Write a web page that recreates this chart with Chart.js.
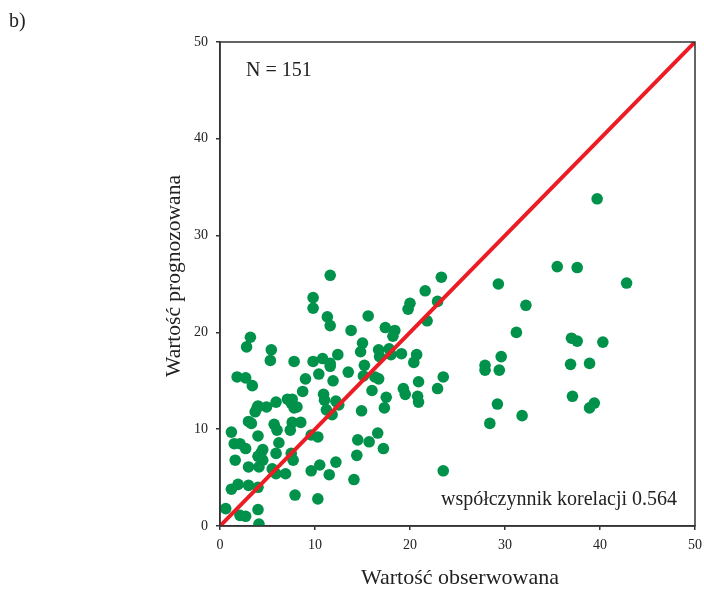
<!DOCTYPE html>
<html lang="pl">
<head>
    <meta charset="UTF-8">
    <title>Wartość obserwowana vs prognozowana</title>
    <script src="https://cdn.jsdelivr.net/npm/chart.js"></script>
    <style>
        body {
            margin: 0;
            padding: 0;
            background: #ffffff;
        }
        #wrap {
            width: 704px;
            height: 589px;
        }
    </style>
</head>
<body>

<div id="wrap">
    <canvas id="myChart" width="704" height="589"></canvas>
</div>

<script>
    // Data
    const obsX = [
        1.2, 4.0, 3.9, 3.7, 4.9, 5.9, 7.1, 7.6, 7.5, 7.8, 8.1, 8.7, 10.9, 11.0, 11.2, 12.2,
        3.0, 3.3, 4.0, 5.7, 6.0, 7.6, 7.4, 8.5, 6.2, 1.5, 2.1, 2.7, 4.5, 4.3, 4.0, 4.5,
        4.1, 5.9, 7.5, 7.7, 1.6, 3.0, 5.5, 5.9, 6.9, 9.6, 10.3, 9.6, 10.5, 11.5, 12.2,
        1.9, 1.2, 3.0, 4.0, 7.9, 10.3, 0.6, 4.0, 2.1, 2.7, 4.1,
        11.6, 9.8, 9.8, 11.3, 11.6, 3.2, 2.8, 5.4, 5.3, 7.8, 9.8, 10.8, 11.6, 11.6, 12.4,
        1.8, 2.7, 3.4, 9.0, 10.4, 11.9,
        23.3, 21.6, 20.0, 19.8, 22.9, 21.8, 15.6, 13.8, 17.4, 18.4, 18.2, 15.0, 14.8,
        16.7, 17.8, 16.8, 18.0, 19.1, 20.7, 20.4, 15.2, 13.5, 15.1, 16.3, 16.7, 16.0,
        19.3, 19.5, 20.9, 23.5, 22.9, 20.8, 20.9, 17.5,
        17.3, 12.5, 11.8, 14.9, 16.6, 14.5, 15.7, 17.2, 14.4, 14.1, 23.5,
        39.7, 35.5, 37.6, 29.3, 42.8, 32.2, 31.2, 37.0, 37.6, 40.3, 29.6, 27.9, 27.9,
        29.4, 36.9, 38.9, 29.2, 31.8, 28.4, 37.1, 39.4, 38.9
    ];
    const predY = [
        9.7, 12.4, 12.2, 11.8, 12.3, 12.8, 13.1, 13.1, 12.7, 12.2, 12.3, 13.9, 13.6, 13.0, 12.0, 12.9,
        10.8, 10.6, 9.3, 10.5, 9.9, 10.7, 9.9, 10.7, 8.6, 8.5, 8.5, 8.0, 7.9, 7.5, 7.2, 6.8,
        6.1, 7.5, 7.5, 6.8, 6.8, 6.1, 5.9, 5.4, 5.4, 9.4, 9.2, 5.7, 6.3, 5.3, 6.6,
        4.3, 3.8, 4.2, 4.0, 3.2, 2.8, 1.8, 1.7, 1.1, 1.0, 0.2,
        25.9, 23.6, 22.5, 21.6, 20.7, 19.5, 18.5, 18.2, 17.1, 17.0, 17.0, 17.3, 16.8, 16.5, 17.7,
        15.4, 15.3, 14.5, 15.2, 15.7, 15.0,
        25.7, 24.3, 23.0, 22.4, 23.2, 21.2, 21.7, 20.2, 20.5, 20.2, 19.6, 18.9, 18.0,
        18.2, 18.3, 17.5, 17.7, 17.8, 17.7, 16.9, 16.6, 15.9, 15.5, 15.4, 15.2, 14.0,
        14.2, 13.6, 14.9, 15.4, 14.2, 13.4, 12.8, 13.3,
        12.2, 12.5, 11.5, 11.9, 9.6, 8.9, 8.7, 8.0, 7.3, 4.8, 5.7,
        33.8, 26.8, 26.7, 25.0, 25.1, 22.8, 20.0, 19.4, 19.1, 19.0, 17.5, 16.6, 16.1,
        16.1, 16.7, 16.8, 12.6, 11.4, 10.6, 13.4, 12.7, 12.2
    ];
    const axisTicks = [0, 10, 20, 30, 40, 50];
    const diagonal = [0, 50];

    const serif = "'Liberation Serif', 'DejaVu Serif', serif";

    // Frame, axis titles and notes drawn over the chart
    const notesPlugin = {
        id: 'notes',
        afterDraw(chart) {
            const { ctx, chartArea } = chart;
            ctx.save();
            ctx.strokeStyle = '#333';
            ctx.lineWidth = 1.5;
            ctx.strokeRect(chartArea.left, chartArea.top, chartArea.right - chartArea.left, chartArea.bottom - chartArea.top);

            ctx.fillStyle = '#222';
            ctx.textBaseline = 'middle';
            ctx.textAlign = 'left';
            ctx.font = '20px ' + serif;
            ctx.fillText('b)', 9, 22);
            ctx.fillText('N = 151', 246, 71);
            ctx.textAlign = 'right';
            ctx.fillText('współczynnik korelacji 0.564', 677, 500);

            ctx.textAlign = 'center';
            ctx.font = '22px ' + serif;
            ctx.fillText('Wartość obserwowana', 460, 578);

            ctx.translate(174, 276);
            ctx.rotate(-Math.PI / 2);
            ctx.font = '21.5px ' + serif;
            ctx.fillText('Wartość prognozowana', 0, 0);
            ctx.restore();
        }
    };

    const ctx = document.getElementById('myChart').getContext('2d');

    const myChart = new Chart(ctx, {
        type: 'scatter',
        data: {
            datasets: [
                {
                    type: 'line',
                    data: diagonal.map(v => ({ x: v, y: v })),
                    borderColor: '#ec1c24',
                    borderWidth: 4,
                    pointRadius: 0,
                    order: 0
                },
                {
                    data: obsX.map((x, i) => ({ x: x, y: predY[i] })),
                    backgroundColor: '#00924a',
                    borderWidth: 0,
                    pointRadius: 5.8,
                    order: 1
                }
            ]
        },
        options: {
            responsive: false,
            animation: false,
            layout: { padding: { left: 0, top: 42, right: 9, bottom: 0 } },
            plugins: {
                legend: { display: false },
                tooltip: { enabled: false }
            },
            scales: {
                x: {
                    min: 0,
                    max: 50,
                    afterBuildTicks: s => { s.ticks = axisTicks.map(v => ({ value: v })); },
                    afterFit: s => { s.height = 63; s.paddingLeft = 0; s.paddingRight = 0; },
                    grid: { drawOnChartArea: false, drawTicks: true, tickLength: 4, color: '#333', lineWidth: 1.5 },
                    border: { display: true, color: '#333', width: 1.5 },
                    ticks: { color: '#222', padding: 7, font: { family: serif, size: 14 }, maxRotation: 0 }
                },
                y: {
                    min: 0,
                    max: 50,
                    afterBuildTicks: s => { s.ticks = axisTicks.map(v => ({ value: v })); },
                    afterFit: s => { s.width = 220; s.paddingTop = 0; s.paddingBottom = 0; },
                    grid: { drawOnChartArea: false, drawTicks: true, tickLength: 4, color: '#333', lineWidth: 1.5 },
                    border: { display: true, color: '#333', width: 1.5 },
                    ticks: { color: '#222', padding: 8, font: { family: serif, size: 14 } }
                }
            }
        },
        plugins: [notesPlugin]
    });
</script>

</body>
</html>
